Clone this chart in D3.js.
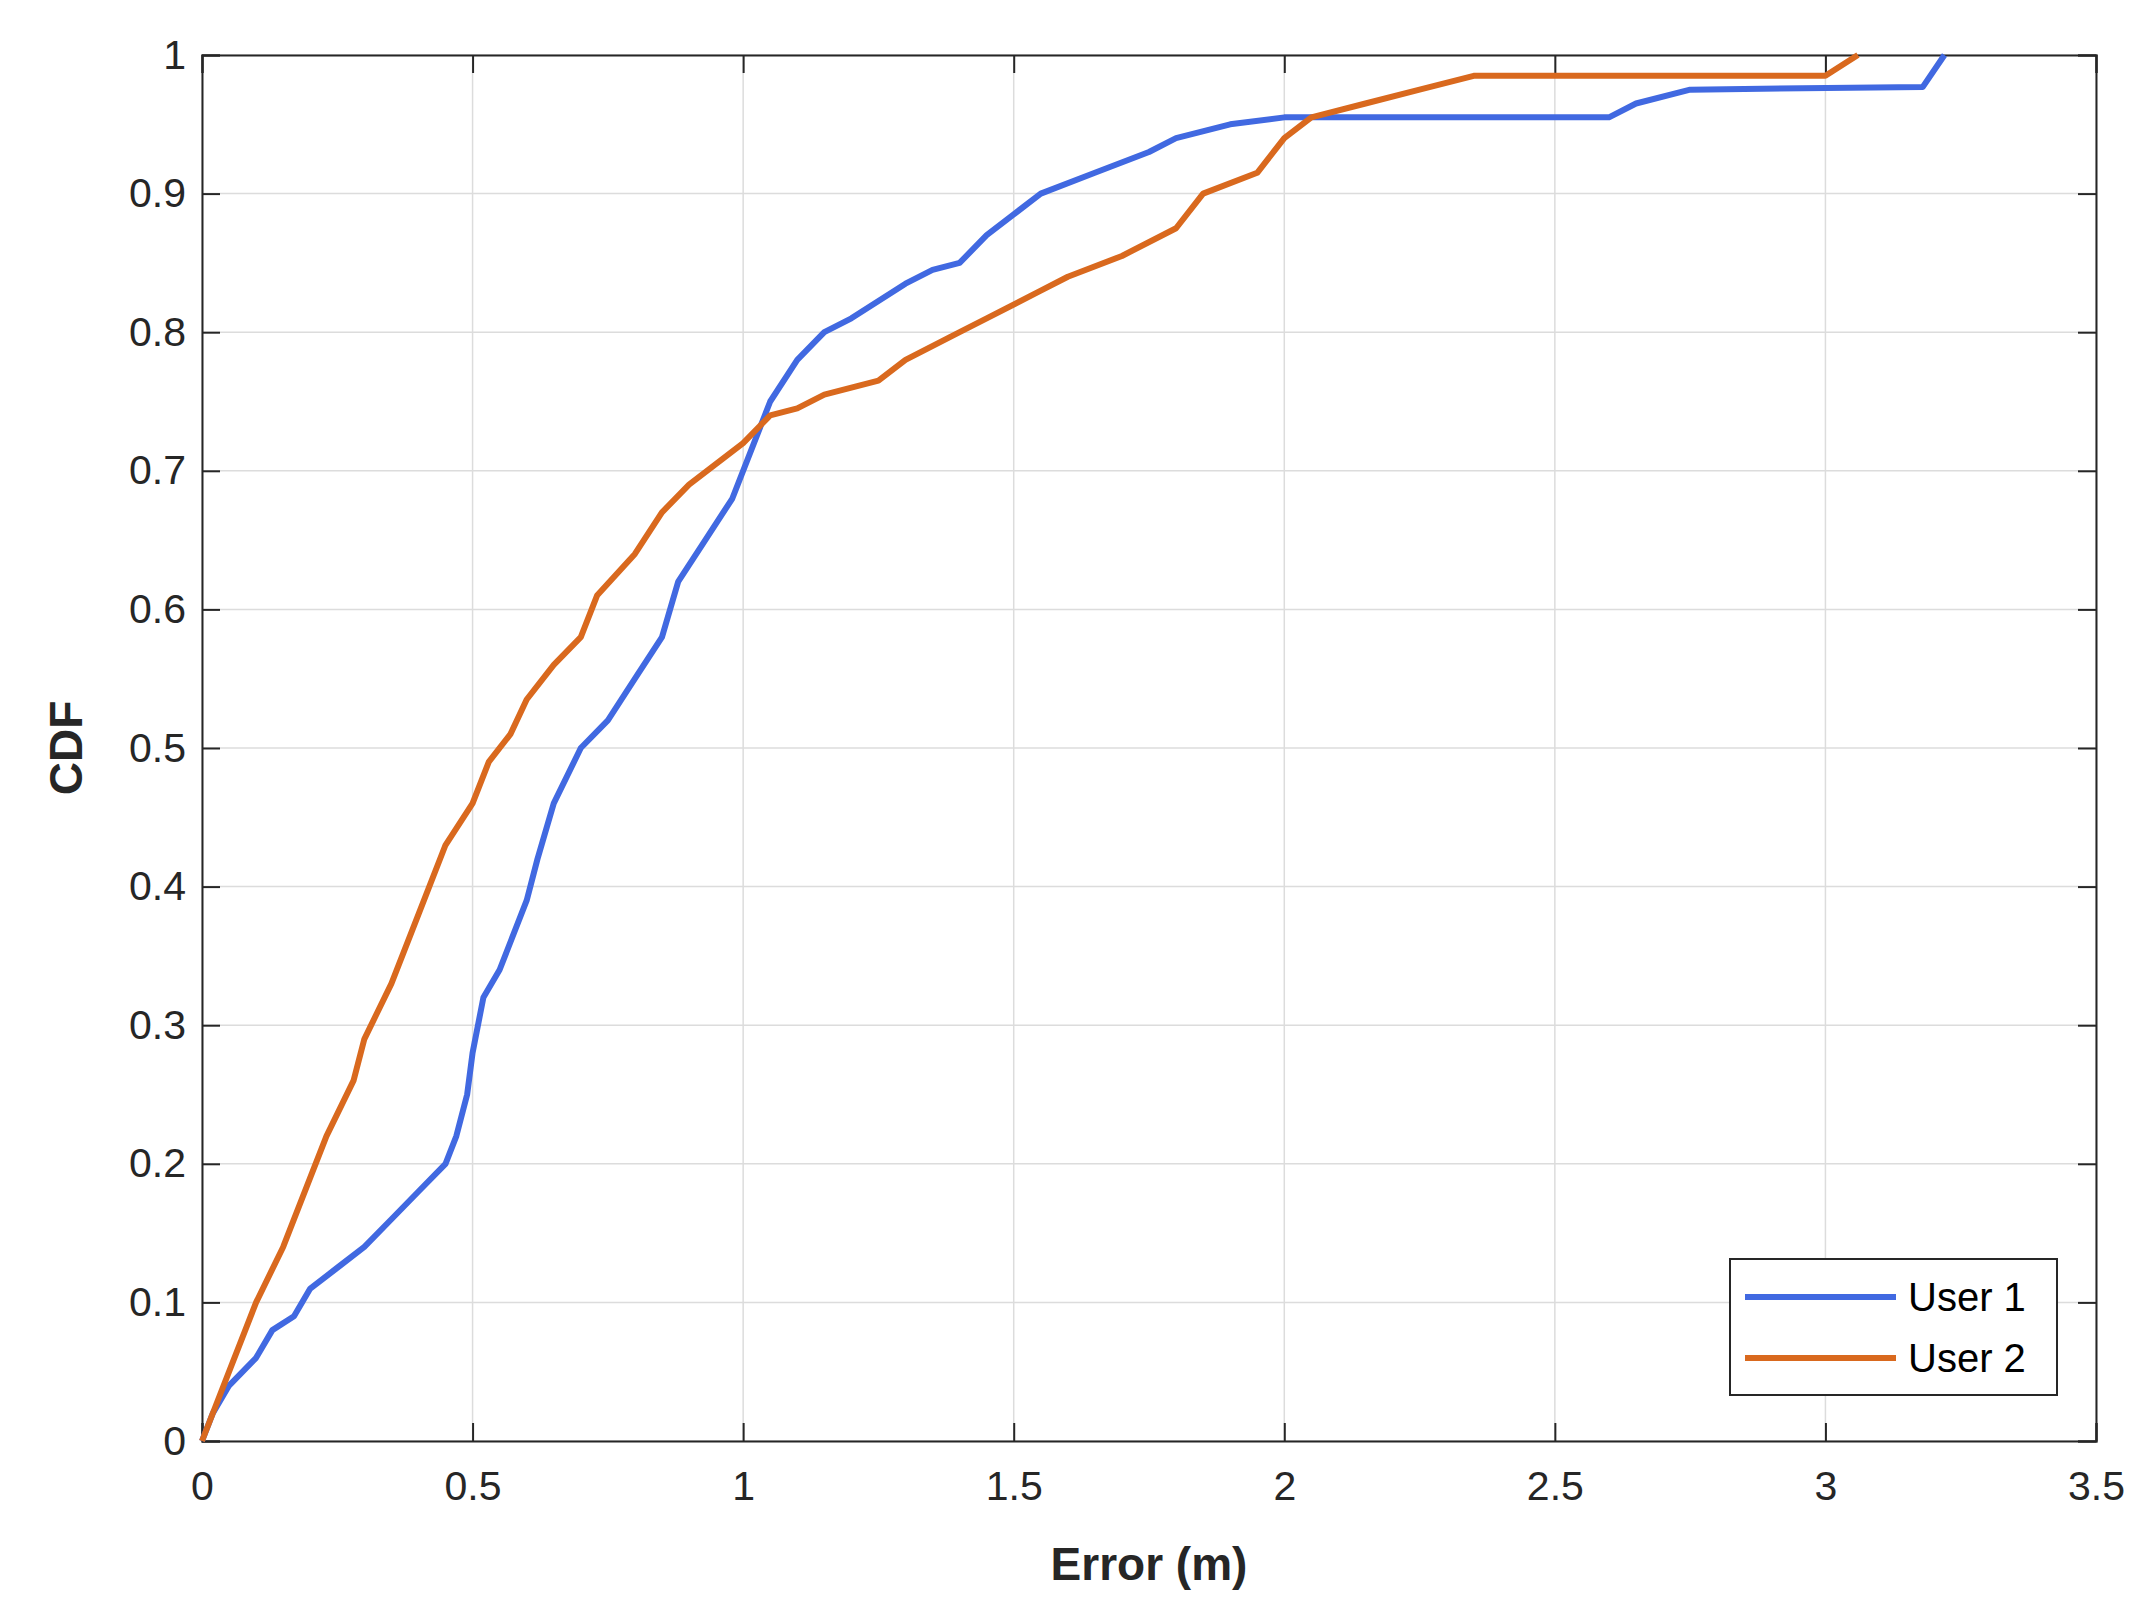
<!DOCTYPE html><html><head><meta charset="utf-8"><script src="https://cdn.jsdelivr.net/npm/d3@7"></script>
<style>body{margin:0;background:#fff}svg{font-family:"Liberation Sans",Arial,sans-serif}</style></head><body><svg id="c" width="2152" height="1617"></svg><script>
const user1 = [[0,0],[0.02,0.02],[0.05,0.04],[0.1,0.06],[0.13,0.08],[0.17,0.09],[0.2,0.11],[0.25,0.125],[0.3,0.14],[0.35,0.16],[0.4,0.18],[0.45,0.2],[0.47,0.22],[0.49,0.25],[0.5,0.28],[0.52,0.32],[0.55,0.34],[0.6,0.39],[0.62,0.42],[0.65,0.46],[0.7,0.5],[0.75,0.52],[0.8,0.55],[0.85,0.58],[0.88,0.62],[0.93,0.65],[0.98,0.68],[1.02,0.72],[1.05,0.75],[1.1,0.78],[1.15,0.8],[1.2,0.81],[1.3,0.835],[1.35,0.845],[1.4,0.85],[1.45,0.87],[1.5,0.885],[1.55,0.9],[1.65,0.915],[1.75,0.93],[1.8,0.94],[1.9,0.95],[2.0,0.955],[2.6,0.955],[2.65,0.965],[2.75,0.975],[3.18,0.977],[3.22,1.0]];
const user2 = [[0,0],[0.02,0.02],[0.05,0.05],[0.08,0.08],[0.1,0.1],[0.15,0.14],[0.2,0.19],[0.23,0.22],[0.28,0.26],[0.3,0.29],[0.35,0.33],[0.4,0.38],[0.45,0.43],[0.5,0.46],[0.53,0.49],[0.57,0.51],[0.6,0.535],[0.65,0.56],[0.7,0.58],[0.73,0.61],[0.8,0.64],[0.85,0.67],[0.9,0.69],[0.95,0.705],[1.0,0.72],[1.05,0.74],[1.1,0.745],[1.15,0.755],[1.25,0.765],[1.3,0.78],[1.4,0.8],[1.45,0.81],[1.55,0.83],[1.6,0.84],[1.7,0.855],[1.8,0.875],[1.85,0.9],[1.95,0.915],[2.0,0.94],[2.05,0.955],[2.15,0.965],[2.25,0.975],[2.35,0.985],[3.0,0.985],[3.06,1.0]];
const xTicks=[0,0.5,1,1.5,2,2.5,3,3.5];
const yTicks=[0,0.1,0.2,0.3,0.4,0.5,0.6,0.7,0.8,0.9,1];
const names=["User 1","User 2"], colors=["#4169e1","#d9691e"];
const svg=d3.select("#c");
const L=202,R=2096,T=55,B=1441;
const x=d3.scaleLinear().domain([0,3.5]).range([L,R]);
const y=d3.scaleLinear().domain([0,1]).range([B,T]);
const g=svg.append("g");
g.selectAll(".gx").data(xTicks).join("line").attr("x1",d=>x(d)).attr("x2",d=>x(d)).attr("y1",T).attr("y2",B).attr("stroke","#dcdcdc").attr("stroke-width",1.5);
g.selectAll(".gy").data(yTicks).join("line").attr("y1",d=>y(d)).attr("y2",d=>y(d)).attr("x1",L).attr("x2",R).attr("stroke","#dcdcdc").attr("stroke-width",1.5);
const fmt=d=>String(d);
const ax=svg.append("g").attr("transform",`translate(0,${B})`).call(d3.axisBottom(x).tickValues(xTicks).tickFormat(fmt).tickSize(-18).tickPadding(30));
const ay=svg.append("g").attr("transform",`translate(${L},0)`).call(d3.axisLeft(y).tickValues(yTicks).tickFormat(fmt).tickSize(-18).tickPadding(16));
const axt=svg.append("g").attr("transform",`translate(0,${T})`).call(d3.axisTop(x).tickValues(xTicks).tickFormat("").tickSize(-18));
const ayr=svg.append("g").attr("transform",`translate(${R},0)`).call(d3.axisRight(y).tickValues(yTicks).tickFormat("").tickSize(-18));
[ax,ay,axt,ayr].forEach(a=>{a.selectAll("path,line").attr("stroke","#262626").attr("stroke-width",2);a.selectAll("text").attr("font-size",41).attr("fill","#262626").attr("font-family","Liberation Sans, Arial, sans-serif");});
const line=d3.line().x(d=>x(d[0])).y(d=>y(d[1]));
[user1,user2].forEach((s,i)=>svg.append("path").datum(s).attr("d",line).attr("fill","none").attr("stroke",colors[i]).attr("stroke-width",6).attr("stroke-linejoin","round"));
svg.append("text").attr("x",(L+R)/2).attr("y",1580).attr("text-anchor","middle").attr("font-size",46).attr("font-weight","bold").attr("fill","#262626").text("Error (m)");
svg.append("text").attr("transform",`translate(82,${(T+B)/2}) rotate(-90)`).attr("text-anchor","middle").attr("font-size",46).attr("font-weight","bold").attr("fill","#262626").text("CDF");
const lg=svg.append("g");
lg.append("rect").attr("x",1730).attr("y",1259).attr("width",327).attr("height",136).attr("fill","#fff").attr("stroke","#262626").attr("stroke-width",2);
names.forEach((n,i)=>{const yy=1297+i*61;
lg.append("line").attr("x1",1745).attr("x2",1896).attr("y1",yy).attr("y2",yy).attr("stroke",colors[i]).attr("stroke-width",6);
lg.append("text").attr("x",1908).attr("y",yy+14).attr("font-size",40).attr("fill","#000").text(n);});
</script></body></html>
